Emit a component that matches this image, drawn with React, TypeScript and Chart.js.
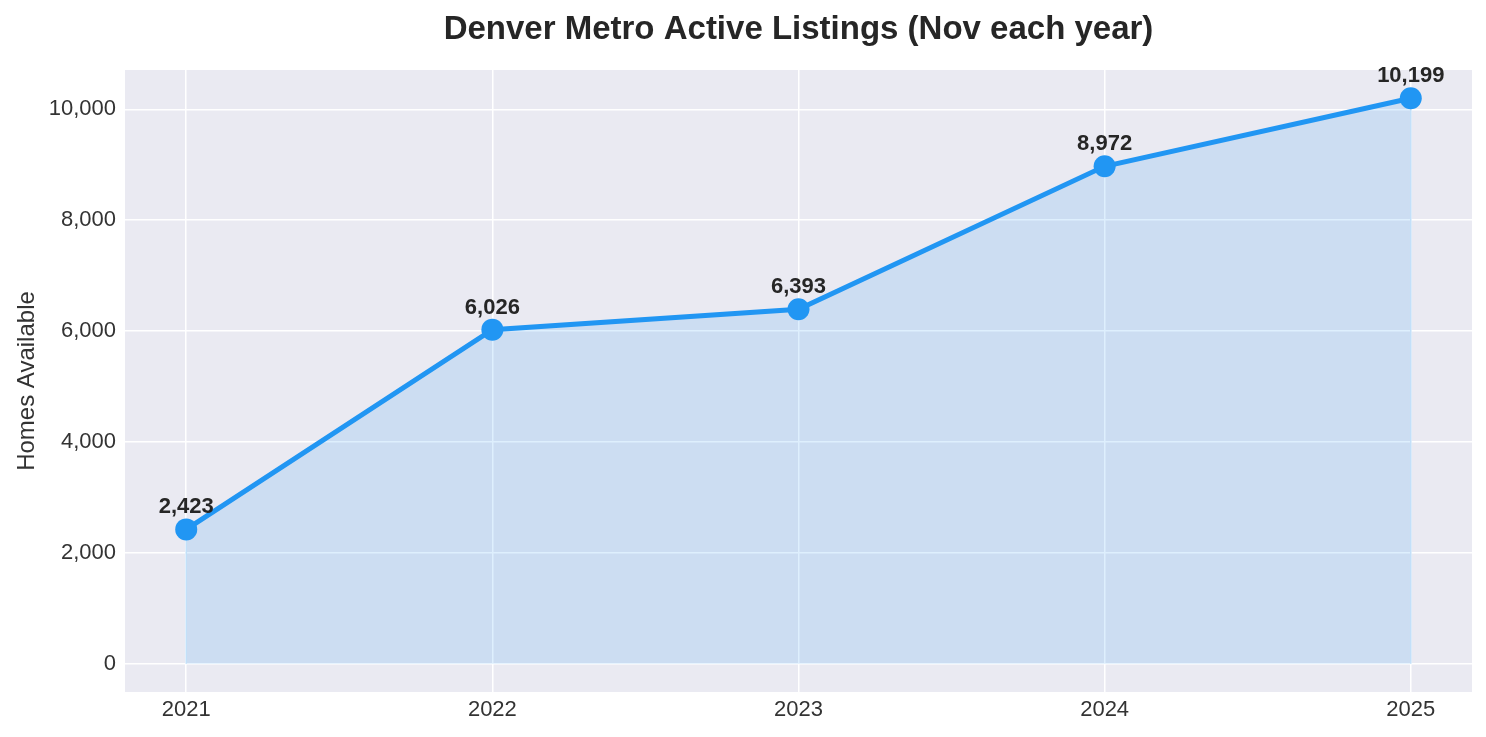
import React, { useEffect, useRef } from "react";
import { Chart, registerables } from "chart.js";

Chart.register(...registerables);

const years = [2021, 2022, 2023, 2024, 2025];
const listings = [2423, 6026, 6393, 8972, 10199];
const yTicks = [0, 2000, 4000, 6000, 8000, 10000];
const titleText = "Denver Metro Active Listings (Nov each year)";
const yLabel = "Homes Available";

const FONT = "'Liberation Sans', Arial, sans-serif";

export default function App() {
  const ref = useRef<HTMLCanvasElement | null>(null);

  useEffect(() => {
    if (!ref.current) return;
    const linePts = years.map((x, i) => ({ x, y: listings[i] }));
    const fillPts = [
      { x: years[0], y: 0 },
      ...linePts,
      { x: years[years.length - 1], y: 0 },
    ];
    const maxV = Math.max(...listings);
    const pad = maxV * 0.05;

    const decor = {
      id: "decor",
      beforeDraw(chart: any) {
        const { ctx, chartArea: a } = chart;
        ctx.save();
        ctx.fillStyle = "#ffffff";
        ctx.fillRect(0, 0, chart.width, chart.height);
        ctx.fillStyle = "#EAEAF2";
        ctx.fillRect(a.left, a.top, a.right - a.left, a.bottom - a.top);
        ctx.restore();
      },
      afterDraw(chart: any) {
        const { ctx, chartArea: a } = chart;
        ctx.save();
        ctx.fillStyle = "#262626";
        ctx.font = `bold 33px ${FONT}`;
        ctx.textAlign = "center";
        ctx.textBaseline = "alphabetic";
        ctx.fillText(titleText, (a.left + a.right) / 2, 39);

        ctx.font = `24px ${FONT}`;
        ctx.fillStyle = "#333333";
        ctx.translate(34, (a.top + a.bottom) / 2);
        ctx.rotate(-Math.PI / 2);
        ctx.fillText(yLabel, 0, 0);
        ctx.restore();

        const meta = chart.getDatasetMeta(0);
        ctx.save();
        ctx.fillStyle = "#262626";
        ctx.font = `bold 22px ${FONT}`;
        ctx.textAlign = "center";
        ctx.textBaseline = "alphabetic";
        meta.data.forEach((pt: any, i: number) => {
          ctx.fillText(listings[i].toLocaleString("en-US"), pt.x, pt.y - 16);
        });
        ctx.restore();
      },
    };

    const chart = new Chart(ref.current, {
      type: "line",
      data: {
        datasets: [
          {
            data: linePts,
            fill: false,
            borderColor: "#2196F3",
            borderWidth: 5,
            pointRadius: 11,
            pointBackgroundColor: "#2196F3",
            pointBorderColor: "#2196F3",
            pointBorderWidth: 0,
            tension: 0,
          },
          {
            data: fillPts,
            fill: "origin",
            backgroundColor: "rgba(33,150,243,0.15)",
            borderColor: "rgba(190,222,248,0.9)",
            borderWidth: 1.5,
            pointRadius: 0,
            tension: 0,
          },
        ],
      },
      options: {
        animation: false,
        responsive: false,
        devicePixelRatio: 1,
        layout: { padding: { left: 0, top: 70, right: 14, bottom: 0 } },
        plugins: {
          legend: { display: false },
          title: { display: false },
          tooltip: { enabled: false },
        },
        scales: {
          x: {
            type: "linear",
            min: years[0] - 0.2,
            max: years[years.length - 1] + 0.2,
            afterBuildTicks: (s: any) => {
              s.ticks = years.map((v) => ({ value: v }));
            },
            afterFit: (s: any) => {
              s.height = 45;
            },
            grid: { color: "#ffffff", lineWidth: 1.5, drawTicks: false },
            border: { display: false },
            ticks: {
              padding: 5,
              color: "#333333",
              font: { family: FONT, size: 22 },
              callback: (v: any) => String(v),
            },
          },
          y: {
            type: "linear",
            min: -pad,
            max: maxV + pad,
            afterBuildTicks: (s: any) => {
              s.ticks = yTicks.map((v) => ({ value: v }));
            },
            afterFit: (s: any) => {
              s.width = 125;
            },
            grid: { color: "#ffffff", lineWidth: 1.5, drawTicks: false },
            border: { display: false },
            ticks: {
              padding: 9,
              color: "#333333",
              font: { family: FONT, size: 22 },
              callback: (v: any) => Number(v).toLocaleString("en-US"),
            },
          },
        },
      },
      plugins: [decor],
    });
    return () => chart.destroy();
  }, []);

  return (
    <div style={{ position: "absolute", left: 0, top: 0, width: 1486, height: 737, background: "#fff" }}>
      <canvas ref={ref} width={1486} height={737} style={{ display: "block" }} />
    </div>
  );
}
